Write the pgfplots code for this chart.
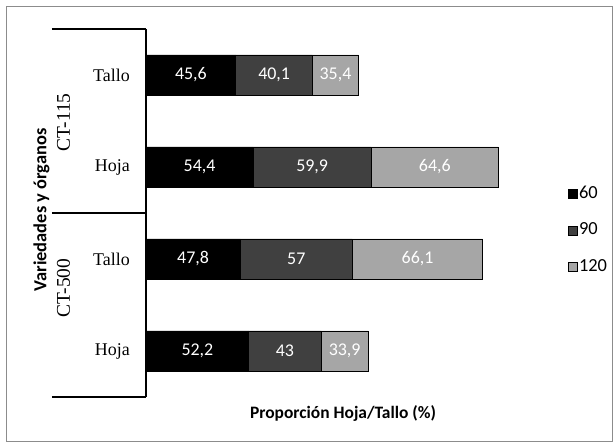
\documentclass[border=0pt]{standalone}
\usepackage{pgfplots}
\pgfplotsset{compat=1.18}
\usepackage{fontspec}
\setmainfont{Carlito}
\newfontfamily\serifc{Liberation Serif}
\definecolor{cA}{HTML}{000000}
\definecolor{cB}{HTML}{404040}
\definecolor{cC}{HTML}{A6A6A6}
\definecolor{frameC}{HTML}{8C8C8C}
\begin{document}
\begin{tikzpicture}[lbl/.style={font=\fontsize{18}{20}\selectfont, text=white}]
\useasboundingbox (-146bp,-51bp) rectangle (469bp,397bp);
\draw[frameC, line width=1bp] (-139bp,-44bp) rectangle (466bp,390bp);
\begin{axis}[
  at={(0,0)}, anchor=south west,
  scale only axis, width=394bp, height=368bp,
  xbar stacked, bar width=0.435,
  legend image code/.code={\draw[#1] (0bp,-4.5bp) rectangle (9bp,4.5bp);},
  xmin=0, xmax=200, ymin=-0.5, ymax=3.5,
  axis y line*=left, axis x line*=bottom,
  x axis line style={draw=none},
  y axis line style={line width=1.2bp},
  xtick=\empty,
  ytick={0,1,2,3},
  yticklabels={Hoja,Tallo,Hoja,Tallo},
  major tick length=0pt,
  yticklabel style={font=\serifc\fontsize{18}{20}\selectfont, inner sep=0pt, xshift=-16bp},
  xlabel={\textbf{Proporción Hoja/Tallo (\%)}},
  xlabel style={at={(axis description cs:0.5,0)}, anchor=center, yshift=-17bp, font=\fontsize{17.5}{20}\selectfont},
  ylabel={\textbf{Variedades y órganos}},
  ylabel style={at={(axis description cs:-0.2652,0.508)}, anchor=center, font=\fontsize{18.5}{20}\selectfont},
  legend style={draw=none, fill=none, at={(rel axis cs:1.0711,0.578)}, anchor=north west,
    inner sep=0pt, row sep=17.5bp, font=\fontsize{18.5}{20}\selectfont,
    nodes={inner sep=1bp, text height=13bp, text depth=4bp}},
  legend cell align=left,
  after end axis/.code={
    \node[lbl] at (axis cs:22.8,3) {45,6};
    \node[lbl] at (axis cs:65.05,3) {40,1};
    \node[lbl] at (axis cs:96.2,3) {35,4};
    \node[lbl] at (axis cs:27.2,2) {54,4};
    \node[lbl] at (axis cs:84.35,2) {59,9};
    \node[lbl] at (axis cs:146.6,2) {64,6};
    \node[lbl] at (axis cs:23.9,1) {47,8};
    \node[lbl] at (axis cs:76.3,1) {57};
    \node[lbl] at (axis cs:137.85,1) {66,1};
    \node[lbl] at (axis cs:26.1,0) {52,2};
    \node[lbl] at (axis cs:70.55,0) {43};
    \node[lbl] at (axis cs:100.85,0) {33,9};
  },
]
% bar lengths as drawn in the reference (labels give the printed values)
\addplot[fill=cA, draw=black, line width=0.8bp] coordinates {(52.2,0) (47.8,1) (54.4,2) (45.6,3)};
\addlegendentry{60}
\addplot[fill=cB, draw=black, line width=0.8bp] coordinates {(36.7,0) (57,1) (59.9,2) (38.9,3)};
\addlegendentry{90}
\addplot[fill=cC, draw=black, line width=0.8bp] coordinates {(23.9,0) (66.1,1) (64.6,2) (23.4,3)};
\addlegendentry{120}
\end{axis}
\draw[line width=1.2bp] (-94bp,368bp) -- (0bp,368bp);
\draw[line width=1.2bp] (-94bp,184bp) -- (0bp,184bp);
\draw[line width=1.2bp] (-94bp,0bp) -- (0bp,0bp);
\node[rotate=90, font=\serifc\fontsize{19.5}{20}\selectfont] at (-82.5bp,274.5bp) {CT-115};
\node[rotate=90, font=\serifc\fontsize{19.5}{20}\selectfont] at (-82.5bp,109bp) {CT-500};
\end{tikzpicture}
\end{document}
